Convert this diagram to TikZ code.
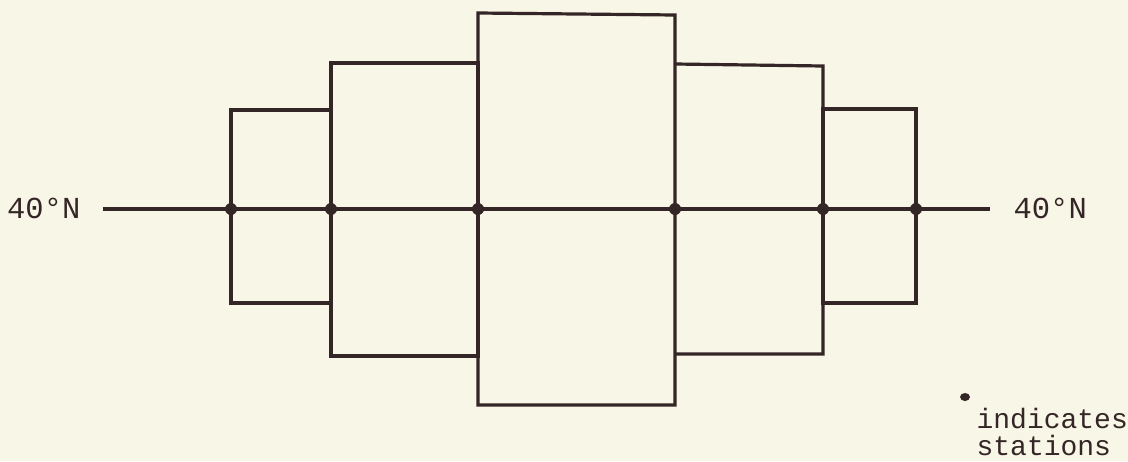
\documentclass[tikz,border=0pt]{standalone}
\usepackage{fontspec}
\setmonofont{Liberation Mono}
\usetikzlibrary{positioning}
\definecolor{PaperCream}{RGB}{248,246,230}
\definecolor{InkBrown}{RGB}{52,38,38}

\begin{document}
\begin{tikzpicture}[x=1pt,y=-1pt,line width=3.2pt,InkBrown,
  lat/.style={font=\ttfamily\fontsize{30.5}{30}\selectfont,inner sep=0pt},
  legend/.style={font=\ttfamily\fontsize{28}{27}\selectfont,inner sep=0pt,anchor=base west}]
  \fill[PaperCream] (0,0) rectangle (1128,461);
  \useasboundingbox (0,0) rectangle (1128,461);
  % stations on the parallel
  \foreach \n/\x in {1/231,2/331,3/478,4/675,5/823,6/916}
    \coordinate (s\n) at (\x,209);
  % boxes
  \draw (231,110) rectangle (331,303);
  \draw (331,63) rectangle (478,356);
  \draw (478,13) -- (675,15) -- (675,405) -- (478,405) -- cycle;
  \draw (675,64) -- (823,66) -- (823,354) -- (675,354);
  \draw (823,109) rectangle (916,303);
  % latitude line
  \node[lat,anchor=east] (wlab) at (82,208) {40°N};
  \node[lat,anchor=west] (elab) at (1012,208) {40°N};
  \draw ([xshift=21pt]wlab.east |- s1) -- ([xshift=-22pt]elab.west |- s6);
  \foreach \n in {1,...,6}{\fill (s\n) circle (6pt);}
  % legend
  \fill (965,397) ellipse (5pt and 4pt);
  \node[legend] (ind) at (975,428) {indicates};
  \node[legend] (sta) at ([yshift=-27pt]ind.base west) {stations};
\end{tikzpicture}
\end{document}
